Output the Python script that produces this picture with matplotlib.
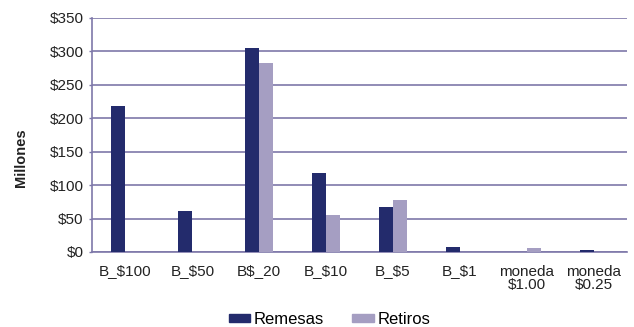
import matplotlib
matplotlib.use("Agg")
import matplotlib.pyplot as plt
import numpy as np
from matplotlib.patches import Patch

categories = ["B_$100", "B_$50", "B$_20", "B_$10", "B_$5", "B_$1", "moneda\n$1.00", "moneda\n$0.25"]
remesas = [218, 62, 305, 118, 67, 8, 0, 3]
retiros = [0, 0, 283, 55, 78, 0.5, 6, 0]
yticks = [0, 50, 100, 150, 200, 250, 300, 350]
ytick_labels = ["$0", "$50", "$100", "$150", "$200", "$250", "$300", "$350"]

c_rem = "#232B6C"
c_ret = "#A59EC2"
c_grid = "#7E78A9"

plt.rcParams['font.family'] = ['Liberation Sans', 'DejaVu Sans']

fig = plt.figure(figsize=(6.34, 3.27), dpi=100)
ax = fig.add_axes([92/634, 1-252/327, (627-92)/634, (252-18)/327])

x = np.arange(len(categories))
w = 0.21
ax.bar(x - w/2, remesas, width=w, color=c_rem, zorder=3, label="Remesas")
ax.bar(x + w/2, retiros, width=w, color=c_ret, zorder=3, label="Retiros")

ax.set_xlim(-0.5, len(categories) - 0.5)
ax.set_ylim(0, 350)
ax.set_yticks(yticks)
ax.set_yticklabels(ytick_labels, fontsize=11, color="#222222")
ax.set_xticks(x)
ax.set_xticklabels(categories, fontsize=11, color="#222222", linespacing=1.0)

ax.tick_params(axis='x', length=0, pad=9)
ax.tick_params(axis='y', length=2.5, width=1, color=c_grid, pad=3.5)

ax.yaxis.grid(True, color=c_grid, linewidth=1.2, zorder=0)
ax.set_axisbelow(True)
for s in ["top", "right"]:
    ax.spines[s].set_visible(False)
ax.spines["left"].set_color(c_grid)
ax.spines["bottom"].set_color(c_grid)
ax.spines["left"].set_linewidth(1.2)
ax.spines["bottom"].set_linewidth(1.2)

fig.text(21.5/634, 1-158/327, "Millones", rotation=90, fontsize=10.5, fontweight="bold",
         ha="center", va="center", color="#222222")

handles = [Patch(color=c_rem, label="Remesas"), Patch(color=c_ret, label="Retiros")]
fig.legend(handles=handles, loc="center", bbox_to_anchor=(329.5/634, 7.5/327), ncol=2,
           frameon=False, fontsize=12, handlelength=1.3, handleheight=0.36,
           handletextpad=0.2, columnspacing=1.7, borderpad=0, borderaxespad=0)

fig.savefig("out.png", dpi=100)
